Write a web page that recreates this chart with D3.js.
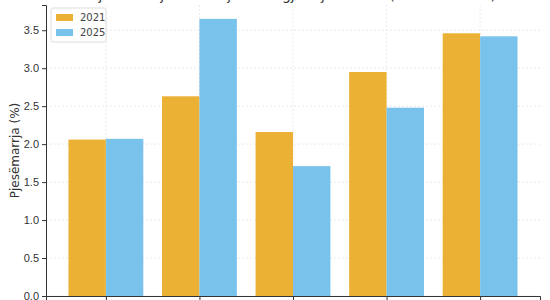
<!DOCTYPE html>
<html>
<head>
<meta charset="utf-8">
<script src="https://cdn.jsdelivr.net/npm/d3@7"></script>
<style>
  body { margin: 0; background: #fff; }
  svg { font-family: "DejaVu Sans", sans-serif; }
  .grid line { stroke: #e4e4e4; stroke-dasharray: 2,2; stroke-width: 0.8; }
  .axis text { fill: #333; font-size: 11px; }
  .axis path, .axis line { stroke: #333; }
</style>
</head>
<body>
<div id="chart"></div>
<script>
// data
var categories = ['Tiranë', 'Durrës', 'Shkodër', 'Elbasan', 'Vlorë'];
var years = ['2021', '2025'];
var values2021 = [2.06, 2.63, 2.16, 2.95, 3.46];
var values2025 = [2.07, 3.65, 1.71, 2.48, 3.42];
var yTicks = [0, 0.5, 1.0, 1.5, 2.0, 2.5, 3.0, 3.5];
var colors = ['#EBB134', '#78C2EC'];

var W = 550, H = 300;
var m = {t:5, r:10, b:4, l:46};
var w = W - m.l - m.r,
    h = H - m.t - m.b;

var svg = d3.select('#chart').append('svg')
    .attr('width', W).attr('height', H);

var plot = svg.append('g').attr('transform', 'translate(' + m.l + ',' + m.t + ')');

//Scales
var barW = 0.4;
var scaleX = d3.scaleLinear().domain([-0.64, categories.length - 1 + 0.64]).range([0, w]);
var ymax = d3.max(values2021.concat(values2025)) * 1.05;
var scaleY = d3.scaleLinear().domain([0, ymax]).range([h, 0]);

//Grid
var grid = plot.append('g').attr('class', 'grid');
grid.selectAll('.gy').data(yTicks).enter().append('line')
    .attr('x1', 0).attr('x2', w)
    .attr('y1', function(d){return scaleY(d);}).attr('y2', function(d){return scaleY(d);});
grid.selectAll('.gx').data(categories).enter().append('line')
    .attr('x1', function(d, i){return scaleX(i);}).attr('x2', function(d, i){return scaleX(i);})
    .attr('y1', 0).attr('y2', h);

//Bars
var series = [values2021, values2025];
series.forEach(function(vals, s){
  plot.selectAll('.bar-' + s).data(vals).enter().append('rect')
      .attr('class', 'bar-' + s)
      .attr('x', function(d, i){return scaleX(i - barW + s * barW);})
      .attr('width', scaleX(barW) - scaleX(0))
      .attr('y', function(d){return scaleY(d);})
      .attr('height', function(d){return h - scaleY(d);})
      .style('fill', colors[s]);
});

//Axes
var axisY = d3.axisLeft(scaleY).tickValues(yTicks).tickFormat(d3.format('.1f')).tickSizeOuter(0).tickSize(4);
plot.append('g').attr('class', 'axis').call(axisY);

var axisX = d3.axisBottom(scaleX).tickValues(d3.range(categories.length))
    .tickFormat(function(i){return categories[i];}).tickSizeOuter(0).tickSize(4);
plot.append('g').attr('class', 'axis').attr('transform', 'translate(0,' + h + ')').call(axisX);

//Labels
svg.append('text')
    .attr('transform', 'translate(19,' + (m.t + h / 2) + ') rotate(-90)')
    .attr('text-anchor', 'middle')
    .style('font-size', '12px').style('fill', '#333')
    .text('Pjesëmarrja (%)');

svg.append('text')
    .attr('x', m.l + w / 2).attr('y', 0)
    .attr('text-anchor', 'middle')
    .style('font-size', '14px').style('fill', '#333')
    .text('Pjesëmarrja e të rinjve në zgjedhjet lokale (2021 vs 2025)');

//Legend
var legend = svg.append('g').attr('transform', 'translate(51,8)');
legend.append('rect').attr('width', 55).attr('height', 34).attr('rx', 2)
    .style('fill', '#fff').style('fill-opacity', 0.8).style('stroke', '#ddd');
years.forEach(function(y, i){
  legend.append('rect').attr('x', 5).attr('y', 6 + i * 15).attr('width', 17).attr('height', 7)
      .style('fill', colors[i]);
  legend.append('text').attr('x', 29).attr('y', 13 + i * 15)
      .style('font-size', '10px').style('fill', '#444').text(y);
});
</script>
</body>
</html>
